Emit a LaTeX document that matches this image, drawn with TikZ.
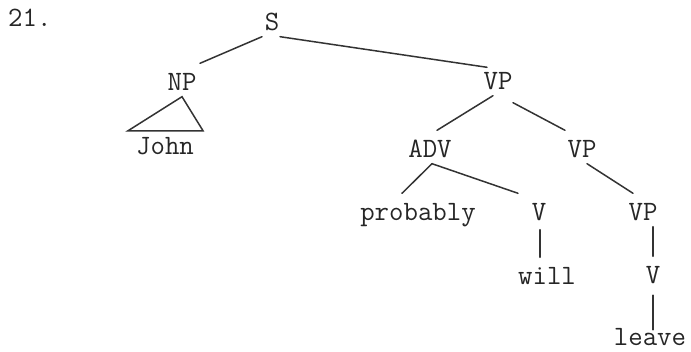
\documentclass[tikz,border=0pt]{standalone}
\begin{document}
\begin{tikzpicture}[x=1pt,y=-1pt,
    branch/.style={draw, line width=1.5pt, black!80, line cap=round}]

        \useasboundingbox (0,0) rectangle (691,352);

        \begin{scope}[every node/.style={anchor=base, inner xsep=2pt, inner ysep=5.5pt,
            text height=22pt, text depth=0pt, text=black!85,
            font=\fontsize{28}{30}\selectfont\ttfamily}]
          \node[anchor=base west] (0) at (6,27) {21.};
          \node (1)  at (272,31)  {S};
          \node (2)  at (182,91)  {NP};
          \node (3)  at (165,155) {John};
          \node (4)  at (498,90)  {VP};
          \node (5)  at (430,158) {ADV};
          \node (6)  at (582,158) {VP};
          \node (7)  at (418,221) {probably};
          \node (8)  at (539,221) {V};
          \node (9)  at (643,221) {VP};
          \node (10) at (547,285) {will};
          \node (11) at (653,284) {V};
          \node (12) at (650,346) {leave};
        \end{scope}

        \begin{scope}[every edge/.style={branch}]
          \path ([xshift=-10pt]1.south)         edge ([xshift=18pt]2.north);
          \path ([xshift=8pt]1.south)           edge ([shift={(-11pt,-5pt)}]4.north);
          \path ([xshift=-5pt]4.south)          edge ([xshift=7pt]5.north);
          \path ([shift={(15pt,-7pt)}]4.south)  edge ([xshift=-17pt]6.north);
          \path ([xshift=2pt]5.south)           edge ([xshift=-16pt]7.north);
          \path ([xshift=2pt]5.south)           edge ([xshift=-21pt]8.north);
          \path ([xshift=5pt]6.south)           edge ([xshift=-10pt]9.north);
          \path ([shift={(1pt,-3pt)}]8.south)   edge ([xshift=-7pt]10.north);
          \path ([xshift=10pt]9.south)          edge (11.north);
          \path ([yshift=-5.5pt]11.south)       edge ([shift={(3pt,-11.5pt)}]12.north);
        \end{scope}

        \draw[branch] (2.south) -- ([shift={(7pt,-3.5pt)}]3.north east)
          -- ([shift={(-6pt,-3.5pt)}]3.north west) -- cycle;

      \end{tikzpicture}
\end{document}
